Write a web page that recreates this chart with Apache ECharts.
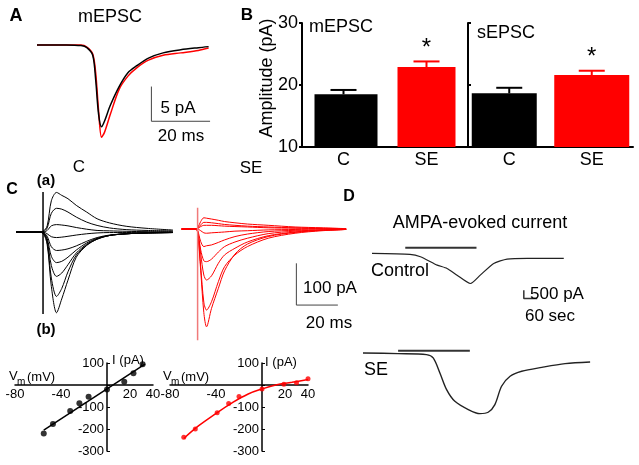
<!DOCTYPE html>
<html>
<head>
<meta charset="utf-8">
<title>mEPSC / sEPSC / AMPA</title>
<script src="https://cdn.jsdelivr.net/npm/echarts@6.0.0/dist/echarts.min.js"></script>
<style>
html,body{margin:0;padding:0;background:#fff}
#main{width:639px;height:465px}
</style>
</head>
<body>
<div id="main"></div>
<script>
// A 平均 mEPSC 波形 (ms, pA)
const aTime = [0, 10, 15, 17, 19, 20, 21, 22, 23, 25, 28, 31, 34, 38, 43, 49, 55, 58.5]
const aCtrl = [0, 0, -0.1, -0.4, -1.5, -5, -10, -11.8, -11, -8.7, -6, -4, -3, -1.9, -1.15, -0.7, -0.4, -0.25]
const aSE = [0, 0, 0, -0.3, -1.3, -4, -9.5, -13.3, -12.6, -10, -6.4, -4.5, -3.3, -2.2, -1.5, -1.15, -0.8, -0.45]

// B 幅度柱状图
const bCats = ['C', 'SE']
const mAmp = [18.5, 22.9]
const mErr = [0.7, 0.9]
const sAmp = [18.65, 21.6]
const sErr = [0.9, 0.7]
const bSig = ['', '*']

// C(a) 电流轨迹 (ms, pA)
const cTimeC = [-13, -3, 0, 2, 4, 6.5, 9, 12, 16, 21, 26, 32, 40, 50, 62.5]
const cTracesC = [
    [0, 0, 2, 15, 75, 95, 88, 80, 64, 48, 32, 22, 14, 9, 5],
    [0, 0, 1, 10, 45, 57, 55, 48, 36, 24, 16, 10, 6, 4, 3],
    [0, 0, 0, 4, 15, 18, 17, 15, 11, 7, 4, 3, 2, 1, 1],
    [0, 0, 0, -4, -11, -13, -12, -10, -7, -4, -2, -1, -1, 0, 0],
    [0, 0, -1, -10, -35, -44, -43, -40, -33, -22, -13, -7, -4, -2, -1],
    [0, 0, -1, -15, -58, -73, -70, -60, -43, -26, -15, -8, -4, -2, -1],
    [0, 0, -2, -20, -80, -106, -98, -78, -50, -29, -16, -8, -4, -2, -1],
    [0, 0, -2, -25, -110, -154, -135, -95, -55, -31, -17, -8, -4, -2, -1],
    [0, 0, -3, -30, -130, -193, -160, -115, -60, -32, -17, -8, -4, -2, -1]
]
const cArtC = [96, -196]
const cTimeSE = [-7.7, -1, 0, 1.5, 3, 4.3, 6.7, 10, 13, 18, 24, 34, 47, 60, 71.6]
const cTracesSE = [
    [0, 0, 3, 18, 27, 26, 24, 21, 18, 15, 12, 9, 5, 3, 1],
    [0, 0, 2, 10, 16, 16, 15, 13, 11, 9, 7, 5, 3, 2, 1],
    [0, 0, 1, 6, 9, 9, 9, 8, 7, 6, 5, 3, 2, 1, 0],
    [0, 0, 0, -4, -9, -10, -9, -8, -7, -5, -4, -2, -1, 0, 0],
    [0, 0, -3, -30, -42, -40, -38, -32, -26, -18, -12, -6, -3, -2, -1],
    [0, 0, -4, -50, -76, -78, -72, -55, -42, -31, -22, -11, -5, -2, -1],
    [0, 0, -5, -60, -110, -122, -112, -82, -62, -46, -31, -16, -7, -3, -1],
    [0, 0, -6, -90, -175, -194, -174, -126, -90, -62, -42, -22, -10, -4, -1],
    [0, 0, -8, -100, -200, -234, -190, -142, -100, -60, -36, -18, -8, -3, -1]
]
const cArtSE = [51, -266]

// C(b) I-V
const ivCtrlV = [-55, -47, -32, -24, -16, 0, 15, 23, 31]
const ivCtrlI = [-220, -177, -118, -83, -53, -20, 15, 53, 94]
const ivCtrlFitV = [-55, 33]
const ivCtrlFitI = [-205, 95]
const ivSEV = [-68, -58, -39, -29, -20, 0, 19, 30, 40]
const ivSEI = [-237, -200, -126, -84, -52, -18, 3, 10, 28]
const ivSEFitV = [-68, -55, -40, -26, -12, 0, 12, 26, 40]
const ivSEFitI = [-243, -185, -129, -81, -41, -18, 0, 12, 25]
const ivXLabels = [-80, -40, 20, 40]

// D AMPA 诱发电流 (s, pA)
const dCtrlT = [0, 170, 217, 292, 336, 381, 441, 485, 545, 605, 695, 859]
const dCtrlI = [0, -60, -205, -705, -905, -1310, -1810, -1310, -605, -345, -300, -300]
const dCtrlApp = [149, 468]
const dSET = [0, 157, 284, 314, 344, 374, 411, 471, 523, 560, 590, 620, 658, 710, 800, 904, 1016]
const dSEI = [0, -40, -100, -300, -1205, -2210, -2915, -3410, -3655, -3575, -3110, -2005, -1405, -1100, -867, -645, -542]
const dSEApp = [157, 478]

const FONT = '"Liberation Sans", Arial, sans-serif'
const RED = '#ff0000'

function pairs(xs, ys){
    return xs.map((x, i) => [x, ys[i]])
}

function hidden(gi, min, max){
    return {type: 'value', gridIndex: gi, min: min, max: max, show: false}
}

function trace(gi, data, color, width, smooth){
    return {
        type: 'line', xAxisIndex: gi, yAxisIndex: gi, data: data,
        symbol: 'none', smooth: smooth || 0, clip: false, silent: true,
        lineStyle: {color: color, width: width}
    }
}

function txt(text, x, y, size, o){
    o = o || {}
    let el = {
        type: 'text', x: x, y: y, z: 100,
        style: {
            text: text, fill: '#000',
            font: (o.bold ? 'bold ' : '') + size + 'px ' + FONT,
            textAlign: o.align || 'center', textVerticalAlign: 'middle'
        }
    }
    if(o.rotation) el.rotation = o.rotation
    return el
}

// 误差棒 + 显著性星号
function errItem(params, api){
    let x = api.value(0), top = api.value(1), hi = api.value(2)
    let col = api.value(3) ? RED : '#000'
    let p0 = api.coord([x, top]), p1 = api.coord([x, hi])
    let children = [
        {type: 'line', shape: {x1: p0[0], y1: p0[1], x2: p1[0], y2: p1[1]}, style: {stroke: col, lineWidth: 2}},
        {type: 'line', shape: {x1: p1[0] - 13, y1: p1[1], x2: p1[0] + 13, y2: p1[1]}, style: {stroke: col, lineWidth: 2}}
    ]
    let sig = bSig[params.dataIndex]
    if(sig){
        children.push({type: 'text', x: p1[0], y: p1[1] - 13, style: {text: sig, fill: '#000', font: '24px ' + FONT, textAlign: 'center', textVerticalAlign: 'middle'}})
    }
    return {type: 'group', children: children}
}

let chart = echarts.init(document.getElementById('main'))

let xAxes = [], yAxes = [], series = []

// A
xAxes.push(hidden(0, 0, 60)); yAxes.push(hidden(0, -16, 2))
series.push(trace(0, pairs(aTime, aSE), RED, 1.5, 0.3))
series.push(trace(0, pairs(aTime, aCtrl), '#000', 1.5, 0.3))
series.push(trace(0, [[39, -6], [39, -11], [59, -11]], '#444', 1))

// B 两个面板
;[[1, mAmp, mErr, [63, 58]], [2, sAmp, sErr, [65, 75]]].forEach(([gi, amp, err, bw]) => {
    xAxes.push({
        type: 'category', gridIndex: gi, data: bCats,
        axisLine: {lineStyle: {color: '#000', width: 2}},
        axisTick: {show: false},
        axisLabel: {color: '#000', fontSize: 18, fontFamily: FONT, margin: 4}
    })
    yAxes.push({
        type: 'value', gridIndex: gi, min: 10, max: 30, interval: 10,
        axisLine: {show: true, lineStyle: {color: '#000', width: 2}},
        axisTick: {show: true, inside: gi == 2, length: 3, lineStyle: {color: '#000', width: 2}},
        axisLabel: {show: gi == 1, color: '#000', fontSize: 18, fontFamily: FONT, margin: 4},
        splitLine: {show: false}
    })
    series.push({type: 'bar', xAxisIndex: gi, yAxisIndex: gi, data: [amp[0], '-'], barWidth: bw[0], barGap: '-100%', itemStyle: {color: '#000'}, silent: true})
    series.push({type: 'bar', xAxisIndex: gi, yAxisIndex: gi, data: ['-', amp[1]], barWidth: bw[1], barGap: '-100%', itemStyle: {color: RED}, silent: true})
    series.push({
        type: 'custom', xAxisIndex: gi, yAxisIndex: gi, renderItem: errItem, z: 5, silent: true,
        data: amp.map((v, i) => [i, v, v + err[i], i])
    })
})

// C(a) 轨迹
xAxes.push(hidden(3, -13, 63)); yAxes.push(hidden(3, -220, 120))
cTracesC.forEach(tr => series.push(trace(3, pairs(cTimeC, tr), '#000', 1, 0.3)))
series.push(trace(3, [[0, cArtC[0]], [0, cArtC[1]]], '#000', 1.5))

xAxes.push(hidden(4, -8, 72)); yAxes.push(hidden(4, -280, 60))
cTracesSE.forEach(tr => series.push(trace(4, pairs(cTimeSE, tr), RED, 1, 0.3)))
series.push(trace(4, [[0, cArtSE[0]], [0, cArtSE[1]]], '#f07a7a', 1.5))
series.push(trace(4, [[47.6, -82], [47.6, -182], [67.6, -182]], '#444', 1))

// C(b) I-V，坐标轴交于原点 (用 offset 移到 0 处)
;[5, 6].forEach(gi => {
    xAxes.push({
        type: 'value', gridIndex: gi, min: -80, max: 40, interval: 20,
        position: 'bottom', offset: -66,
        axisLine: {onZero: false, lineStyle: {color: '#000', width: 1.5}},
        axisTick: {show: false},
        axisLabel: {color: '#000', fontSize: 13, fontFamily: FONT, margin: 3,
            formatter: v => ivXLabels.includes(v) ? String(v) : ''},
        splitLine: {show: false}
    })
    yAxes.push({
        type: 'value', gridIndex: gi, min: -300, max: 100, interval: 100,
        position: 'left', offset: -92,
        axisLine: {show: true, onZero: false, lineStyle: {color: '#000', width: 1.5}},
        axisTick: {show: true, inside: true, length: 3, lineStyle: {color: '#000'}},
        axisLabel: {color: '#000', fontSize: 13, fontFamily: FONT, margin: 3,
            formatter: v => v == 0 ? '' : String(v)},
        splitLine: {show: false}
    })
})
series.push(trace(5, pairs(ivCtrlFitV, ivCtrlFitI), '#000', 1.5))
series.push({type: 'scatter', xAxisIndex: 5, yAxisIndex: 5, data: pairs(ivCtrlV, ivCtrlI), symbolSize: 6, itemStyle: {color: '#000'}, silent: true})
series.push(trace(6, pairs(ivSEFitV, ivSEFitI), RED, 1.5, 0.4))
series.push({type: 'scatter', xAxisIndex: 6, yAxisIndex: 6, data: pairs(ivSEV, ivSEI), symbolSize: 5, itemStyle: {color: RED}, silent: true})

// D
xAxes.push(hidden(7, 0, 860)); yAxes.push(hidden(7, -2800, 500))
series.push(trace(7, pairs(dCtrlT, dCtrlI), '#222', 1.2, 0.2))
series.push(trace(7, [[dCtrlApp[0], 340], [dCtrlApp[1], 340]], '#333', 2))
series.push(trace(7, [[680, -2210], [680, -2710], [740, -2710]], '#333', 1.5))

xAxes.push(hidden(8, 0, 1020)); yAxes.push(hidden(8, -3800, 300))
series.push(trace(8, pairs(dSET, dSEI), '#222', 1.4, 0.3))
series.push(trace(8, [[dSEApp[0], 139], [dSEApp[1], 139]], '#333', 2))

let graphics = [
    txt('A', 16, 16, 18, {bold: true}),
    txt('mEPSC', 110, 17, 18),
    txt('5 pA', 178, 108, 17),
    txt('20 ms', 181, 136, 17),
    txt('B', 247, 15, 17, {bold: true}),
    txt('Amplitude (pA)', 267, 78, 18, {rotation: Math.PI / 2}),
    txt('mEPSC', 341, 27, 18),
    txt('sEPSC', 506, 33, 18),
    txt('C', 12, 190, 16, {bold: true}),
    txt('(a)', 46, 181, 15, {bold: true}),
    txt('(b)', 46, 330, 15, {bold: true}),
    txt('C', 79, 167, 17),
    txt('SE', 251, 168, 17),
    txt('100 pA', 330, 288, 17),
    txt('20 ms', 329, 323, 17),
    txt('I (pA)', 128, 360, 13),
    txt('V', 9, 376, 13, {align: 'left'}),
    txt('m', 17, 382, 10, {align: 'left'}),
    txt('(mV)', 27, 377, 13, {align: 'left'}),
    txt('I (pA)', 281, 362, 13),
    txt('V', 163, 376, 13, {align: 'left'}),
    txt('m', 171, 382, 10, {align: 'left'}),
    txt('(mV)', 181, 377, 13, {align: 'left'}),
    txt('D', 349, 197, 16, {bold: true}),
    txt('AMPA-evoked current', 480, 223, 18),
    txt('Control', 400, 271, 18),
    txt('500 pA', 557, 294, 17),
    txt('60 sec', 550, 316, 17),
    txt('SE', 376, 370, 18)
]

chart.setOption({
    animation: false,
    backgroundColor: '#fff',
    grid: [
        {left: 37, top: 31, width: 176, height: 125},
        {left: 302, top: 23, width: 166, height: 124},
        {left: 468, top: 23, width: 165, height: 124},
        {left: 16, top: 182, width: 158, height: 142},
        {left: 181, top: 204, width: 166, height: 142},
        {left: 15, top: 363, width: 138, height: 88},
        {left: 170, top: 363, width: 138, height: 88},
        {left: 372, top: 245, width: 192, height: 55},
        {left: 363, top: 348, width: 228, height: 68}
    ],
    xAxis: xAxes,
    yAxis: yAxes,
    series: series,
    graphic: graphics
})
</script>
</body>
</html>
